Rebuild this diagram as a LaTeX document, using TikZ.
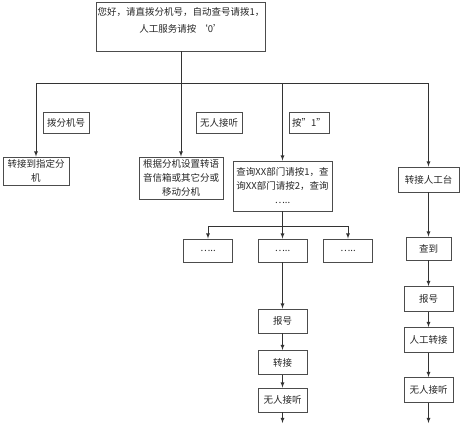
\documentclass[tikz,border=0pt]{standalone}
\usepackage{fontspec}
\setmainfont{Noto Sans CJK SC}

\begin{document}
\begin{tikzpicture}[x=1pt, y=-1pt, >=latex, line width=0.8pt, draw=black!80,
  box/.style={draw=black!70, line width=0.9pt, inner sep=1pt, align=center,
    font=\fontsize{9.5}{14}\selectfont, text=black!85},
  tag/.style={box, minimum height=21}]

\useasboundingbox (0,0) rectangle (473,424);

% top greeting
\node [box, minimum width=169, minimum height=49,
  label={[font=\fontsize{9.5}{17}\selectfont, text=black!85, align=center, anchor=north, yshift=-2pt]north:
    您好，请直拨分机号，自动查号请拨1，\\人工服务请按 ‘0’}] (greet) at (181,26.5) {};
\coordinate (bus) at (181,83);

% first level
\node [box, minimum width=66, minimum height=28, text width=62] (dial) at (36,171) {转接到指定分\\机};
\node [box, minimum width=84, minimum height=42, text width=80] (voice) at (181,178) {根据分机设置转语\\音信箱或其它分或\\移动分机};
\node [box, minimum width=99, minimum height=50, text width=95] (query) at (282.5,186) {查询XX部门请按1，查\\询XX部门请按2，查询\\…..};
\node [box, minimum width=61, minimum height=25] (manual) at (428.5,179.5) {转接人工台};

% labels beside the branches
\node [tag, minimum width=46] (tag-dial) at (66,123) {拨分机号};
\node [tag, minimum width=46] (tag-idle) at (219,123) {无人接听};
\node [tag, minimum width=40] (tag-one) at (309,123) {按”1”};

% query sub branches
\coordinate (sub) at (282.5,226);
\foreach \x [count=\i] in {208,282.5,348}
  \node [box, minimum width=49, minimum height=23] (more-\i) at (\x,250.5) {…..};

% middle chain
\foreach \t/\y [count=\i] in {报号/321,转接/362.5,无人接听/400}
  \node [box, minimum width=49, minimum height=24] (mid-\i) at (282.5,\y) {\t};
\coordinate (mid-out) at (282.5,423);

% right chain
\node [box, minimum width=45, minimum height=23] (right-1) at (428.5,248.5) {查到};
\foreach \t/\y [count=\i from 2] in {报号/299,人工转接/340,无人接听/390}
  \node [box, minimum width=49, minimum height=25] (right-\i) at (428.5,\y) {\t};
\coordinate (right-out) at (428.5,423);

% connectors
\draw (greet) -- (bus);
\foreach \n in {dial,voice,query,manual}
  \draw [->] (bus) -| (\n);

\draw (query) -- (sub);
\foreach \i in {1,2,3}
  \draw [->] (sub) -| (more-\i);

\draw [->] (more-2) -- (mid-1);
\foreach \i/\j in {1/2,2/3}
  \draw [->] (mid-\i) -- (mid-\j);
\draw [->] (mid-3) -- (mid-out);

\draw [->] (manual) -- (right-1);
\foreach \i/\j in {1/2,2/3,3/4}
  \draw [->] (right-\i) -- (right-\j);
\draw [->] (right-4) -- (right-out);
\end{tikzpicture}
\end{document}
